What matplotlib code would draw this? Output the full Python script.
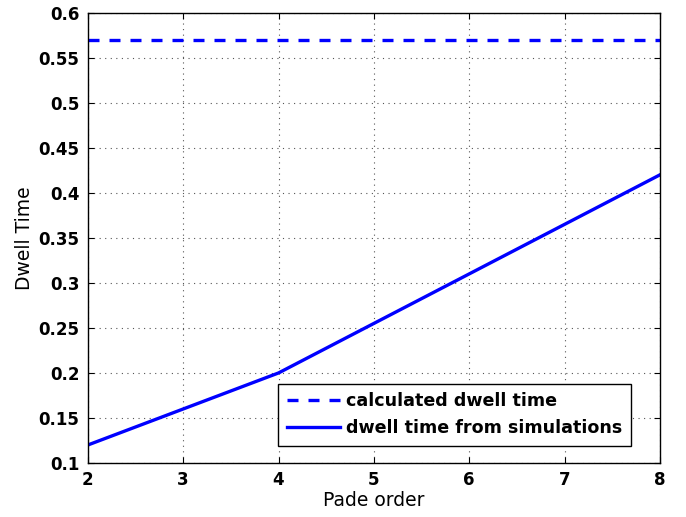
import numpy as np
from matplotlib import pyplot as plt

# Pade order vs dwell time
pade_order = [2, 3, 4, 5, 6, 7, 8]
sim_dwell = [0.12, 0.16, 0.20, 0.255, 0.31, 0.365, 0.42]
calc_dwell = 0.57

x_ticks = [2, 3, 4, 5, 6, 7, 8]
y_ticks = [0.1, 0.15, 0.2, 0.25, 0.3, 0.35, 0.4, 0.45, 0.5, 0.55, 0.6]
y_labels = ['0.1', '0.15', '0.2', '0.25', '0.3', '0.35', '0.4', '0.45', '0.5', '0.55', '0.6']

fig = plt.figure(figsize=(6.86, 5.17), dpi=100)
ax = fig.add_axes([0.128, 0.1044, 0.834, 0.871])

ax.plot([pade_order[0], pade_order[-1]], [calc_dwell, calc_dwell], color='#0000ff',
        linestyle=(0, (3.3, 3.0)), linewidth=2.4, label='calculated dwell time')
ax.plot(pade_order, sim_dwell, color='#0000ff', linewidth=2.4,
        label='dwell time from simulations')

ax.set_xlim(2, 8)
ax.set_ylim(0.1, 0.6)
ax.set_xticks(x_ticks)
ax.set_yticks(y_ticks)
ax.set_yticklabels(y_labels)
ax.grid(True, linestyle=(0, (1, 4)), color='#555555', linewidth=0.8)
ax.tick_params(direction='in', top=True, right=True, length=4.5, labelsize=12, pad=6)
for lbl in ax.get_xticklabels() + ax.get_yticklabels():
    lbl.set_fontweight('bold')
for s in ax.spines.values():
    s.set_linewidth(1.0)

ax.set_xlabel('Pade order', fontsize=13.5, labelpad=1)
ax.set_ylabel('Dwell Time', fontsize=13.5, labelpad=3)

leg = ax.legend(loc='lower right', bbox_to_anchor=(0.949, 0.038), borderaxespad=0,
                fancybox=False, edgecolor='black', framealpha=1,
                prop={'weight': 'bold', 'size': 12.6}, handlelength=3.0,
                borderpad=0.5, labelspacing=0.5, handletextpad=0.35)
leg.get_frame().set_linewidth(1.0)

fig.savefig('out.png', dpi=100)
